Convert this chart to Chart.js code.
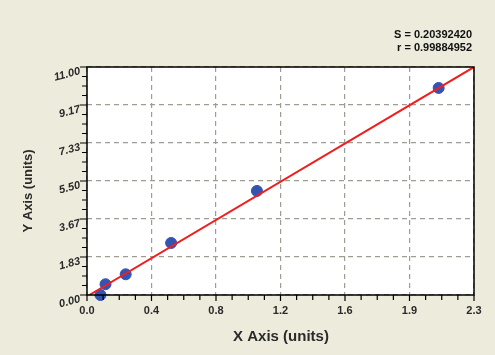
<!DOCTYPE html>
<html>
<head>
<meta charset="utf-8">
<script src="https://cdn.jsdelivr.net/npm/chart.js@4"></script>
<style>
  html, body { margin: 0; padding: 0; background: #edebdc; }
  #wrap { width: 495px; height: 355px; }
</style>
</head>
<body>
<div id="wrap"><canvas id="c" width="495" height="355"></canvas></div>
<script>
// ---- DATA ----
const xValues = [0.08, 0.11, 0.23, 0.50, 1.01, 2.09];
const yValues = [0.00, 0.52, 1.00, 2.51, 5.02, 9.99];
const fitX = [0.014, 2.3];
const fitY = [0.0, 11.0];
const xTickLabels = ["0.0", "0.4", "0.8", "1.2", "1.6", "1.9", "2.3"];
const yTickLabels = ["0.00", "1.83", "3.67", "5.50", "7.33", "9.17", "11.00"];
const xMax = 2.3;
const yMax = 11;
const statLines = ["S = 0.20392420", "r = 0.99884952"];

// ---- custom frame, ticks and labels ----
const framePlugin = {
  id: "frame",
  afterDraw(chart) {
    const ctx = chart.ctx;
    const a = chart.chartArea;
    const xs = chart.scales.x;
    const ys = chart.scales.y;
    ctx.save();
    ctx.strokeStyle = "#000";
    ctx.lineWidth = 1.5;
    ctx.strokeRect(a.left, a.top, a.right - a.left, a.bottom - a.top);

    // x ticks (major + 3 minor)
    ctx.lineWidth = 1.2;
    ctx.beginPath();
    for (let i = 0; i < 6; i++) {
      for (let j = 0; j <= 4; j++) {
        const v = (i + j / 4) * xMax / 6;
        const px = xs.getPixelForValue(v);
        ctx.moveTo(px, a.bottom);
        ctx.lineTo(px, a.bottom + (j === 0 ? 6 : 5));
      }
    }
    ctx.moveTo(a.right, a.bottom);
    ctx.lineTo(a.right, a.bottom + 6);
    // y ticks
    for (let i = 0; i < 6; i++) {
      for (let j = 0; j <= 4; j++) {
        const v = (i + j / 4) * yMax / 6;
        const py = ys.getPixelForValue(v);
        ctx.moveTo(a.left, py);
        ctx.lineTo(a.left - (j === 0 ? 7 : 5), py);
      }
    }
    ctx.moveTo(a.left, a.top);
    ctx.lineTo(a.left - 7, a.top);
    ctx.stroke();

    // x labels
    ctx.fillStyle = "#2a2a2a";
    ctx.font = "bold 11px 'Liberation Sans', Arial, sans-serif";
    ctx.textAlign = "center";
    ctx.textBaseline = "middle";
    xTickLabels.forEach((t, i) => {
      ctx.fillText(t, xs.getPixelForValue(i * xMax / 6), a.bottom + 16);
    });

    // y labels (slanted)
    ctx.font = "italic bold 11px 'Liberation Sans', Arial, sans-serif";
    ctx.textAlign = "right";
    yTickLabels.forEach((t, i) => {
      const py = ys.getPixelForValue(i * yMax / 6);
      ctx.save();
      ctx.translate(a.left - 7, py + 4);
      ctx.rotate(-15 * Math.PI / 180);
      ctx.fillText(t, 0, 0);
      ctx.restore();
    });

    // axis titles
    ctx.font = "bold 15px 'Liberation Sans', Arial, sans-serif";
    ctx.textAlign = "center";
    ctx.fillText("X Axis (units)", 281, 337);
    ctx.save();
    ctx.translate(28, 191);
    ctx.rotate(-Math.PI / 2);
    ctx.font = "bold 13px 'Liberation Sans', Arial, sans-serif";
    ctx.fillText("Y Axis (units)", 0, 0);
    ctx.restore();

    // stats
    ctx.font = "bold 11px 'Liberation Sans', Arial, sans-serif";
    ctx.textAlign = "right";
    ctx.fillStyle = "#111";
    ctx.fillText(statLines[0], 472, 35);
    ctx.fillText(statLines[1], 472, 48);
    ctx.restore();
  }
};

const plotBg = {
  id: "plotBg",
  beforeDraw(chart) {
    const a = chart.chartArea;
    chart.ctx.save();
    chart.ctx.fillStyle = "#fff";
    chart.ctx.fillRect(a.left, a.top, a.right - a.left, a.bottom - a.top);
    chart.ctx.restore();
  }
};

new Chart(document.getElementById("c"), {
  type: "scatter",
  data: {
    datasets: [
      {
        type: "line",
        data: fitX.map((x, i) => ({ x: x, y: fitY[i] })),
        borderColor: "#f01e1e",
        borderWidth: 2,
        pointRadius: 0,
        fill: false
      },
      {
        data: xValues.map((x, i) => ({ x: x, y: yValues[i] })),
        backgroundColor: "#3553b0",
        borderColor: "#3553b0",
        pointRadius: 5.5,
        clip: false
      }
    ]
  },
  options: {
    responsive: false,
    animation: false,
    layout: { padding: { left: 87, right: 21, top: 67, bottom: 60 } },
    plugins: { legend: { display: false }, tooltip: { enabled: false } },
    scales: {
      x: {
        type: "linear",
        min: 0,
        max: xMax,
        afterBuildTicks: s => { s.ticks = [0, 1, 2, 3, 4, 5, 6].map(i => ({ value: i * xMax / 6 })); },
        ticks: { display: false },
        border: { display: false, dash: [5, 4] },
        grid: { color: "#a09c92", lineWidth: 1.2, drawTicks: false }
      },
      y: {
        type: "linear",
        min: 0,
        max: yMax,
        afterBuildTicks: s => { s.ticks = [0, 1, 2, 3, 4, 5, 6].map(i => ({ value: i * yMax / 6 })); },
        ticks: { display: false },
        border: { display: false, dash: [5, 4] },
        grid: { color: "#a09c92", lineWidth: 1.2, drawTicks: false }
      }
    }
  },
  plugins: [plotBg, framePlugin]
});
</script>
</body>
</html>
